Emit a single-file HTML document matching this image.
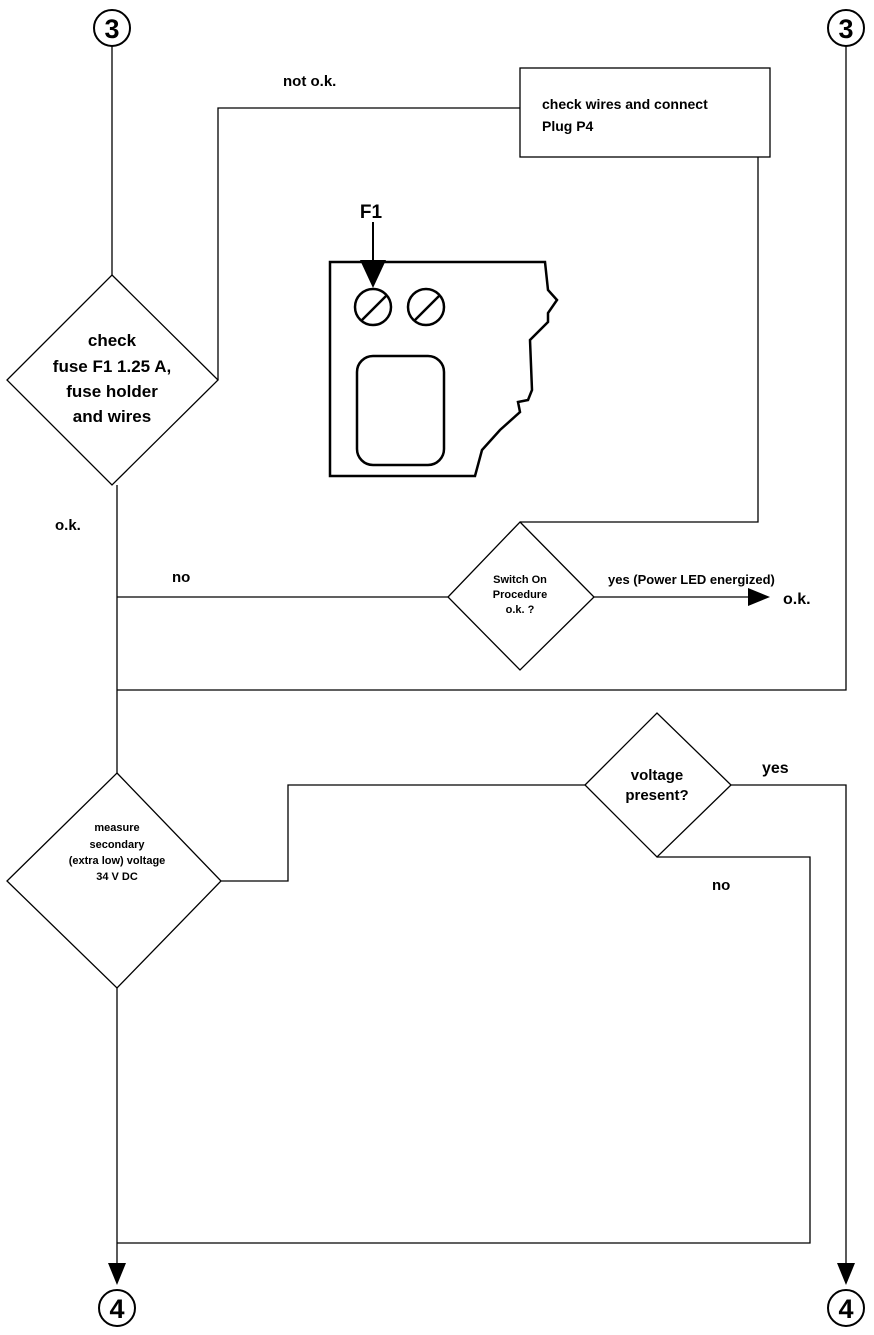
<!DOCTYPE html>
<html><head><style>
html,body{margin:0;padding:0;background:#fff;}
svg{display:block;}
text{font-family:"Liberation Sans",Arial,sans-serif;font-weight:bold;fill:#000;}
</style></head><body>
<svg width="874" height="1335" viewBox="0 0 874 1335" xmlns="http://www.w3.org/2000/svg">
<g fill="none" stroke="#000" stroke-width="1.3">
<circle cx="112" cy="28" r="18" stroke-width="2"/>
<circle cx="846" cy="28" r="18" stroke-width="2"/>
<circle cx="117" cy="1308" r="18" stroke-width="2"/>
<circle cx="846" cy="1308" r="18" stroke-width="2"/>
<line x1="112" y1="46" x2="112" y2="275"/>
<polygon points="112,275 218,380 112,485 7,380"/>
<polyline points="218,380 218,108 520,108"/>
<rect x="520" y="68" width="250" height="89"/>
<polyline points="758,157 758,522 520,522"/>
<polygon points="520,522 594,597 520,670 448,597"/>
<line x1="594" y1="597" x2="748" y2="597"/>
<line x1="117" y1="597" x2="448" y2="597"/>
<line x1="117" y1="485" x2="117" y2="773"/>
<line x1="117" y1="988" x2="117" y2="1265"/>
<polyline points="117,690 846,690 846,46"/>
<polygon points="117,773 221,881 117,988 7,881"/>
<polyline points="221,881 288,881 288,785 585,785"/>
<polygon points="585,785 657,713 731,785 657,857"/>
<polyline points="731,785 846,785 846,1265"/>
<polyline points="657,857 810,857 810,1243 117,1243"/>
<path d="M330,476 L330,262 L545,262 L548,290 L557,300 L548,313 L548,322 L530,340 L532,390 L528,400 L518,402 L520,412 L500,430 L482,450 L475,476 Z" stroke-width="2.5"/>
<circle cx="373" cy="307" r="18" stroke-width="2.5"/>
<circle cx="426" cy="307" r="18" stroke-width="2.5"/>
<line x1="362" y1="320" x2="386" y2="296" stroke-width="2.5"/>
<line x1="415" y1="320" x2="439" y2="296" stroke-width="2.5"/>
<rect x="357" y="356" width="87" height="109" rx="16" stroke-width="2.5"/>
<line x1="373" y1="222" x2="373" y2="262" stroke-width="2"/>
</g>
<g fill="#000">
<polygon points="360,260 386,260 373,288"/>
<polygon points="748,588 748,606 770,597"/>
<polygon points="108,1263 126,1263 117,1285"/>
<polygon points="837,1263 855,1263 846,1285"/>
</g>
<g text-anchor="middle">
<text x="112" y="38" font-size="27">3</text>
<text x="846" y="38" font-size="27">3</text>
<text x="117" y="1318" font-size="27">4</text>
<text x="846" y="1318" font-size="27">4</text>
<text x="371" y="218" font-size="19">F1</text>
<text x="112" y="346" font-size="17">check</text>
<text x="112" y="372" font-size="17">fuse F1 1.25 A,</text>
<text x="112" y="397" font-size="17">fuse holder</text>
<text x="112" y="422" font-size="17">and wires</text>
<text x="520" y="583" font-size="11">Switch On</text>
<text x="520" y="598" font-size="11">Procedure</text>
<text x="520" y="613" font-size="11">o.k. ?</text>
<text x="117" y="831" font-size="11">measure</text>
<text x="117" y="848" font-size="11">secondary</text>
<text x="117" y="864" font-size="11">(extra low) voltage</text>
<text x="117" y="880" font-size="11">34 V DC</text>
<text x="657" y="780" font-size="15">voltage</text>
<text x="657" y="800" font-size="15">present?</text>
</g>
<text x="283" y="86" font-size="15">not o.k.</text>
<text x="542" y="109" font-size="14">check wires and connect</text>
<text x="542" y="131" font-size="14">Plug P4</text>
<text x="55" y="530" font-size="15">o.k.</text>
<text x="172" y="582" font-size="15">no</text>
<text x="608" y="584" font-size="13">yes (Power LED energized)</text>
<text x="783" y="604" font-size="16">o.k.</text>
<text x="762" y="773" font-size="16">yes</text>
<text x="712" y="890" font-size="15">no</text>
</svg>
</body></html>
